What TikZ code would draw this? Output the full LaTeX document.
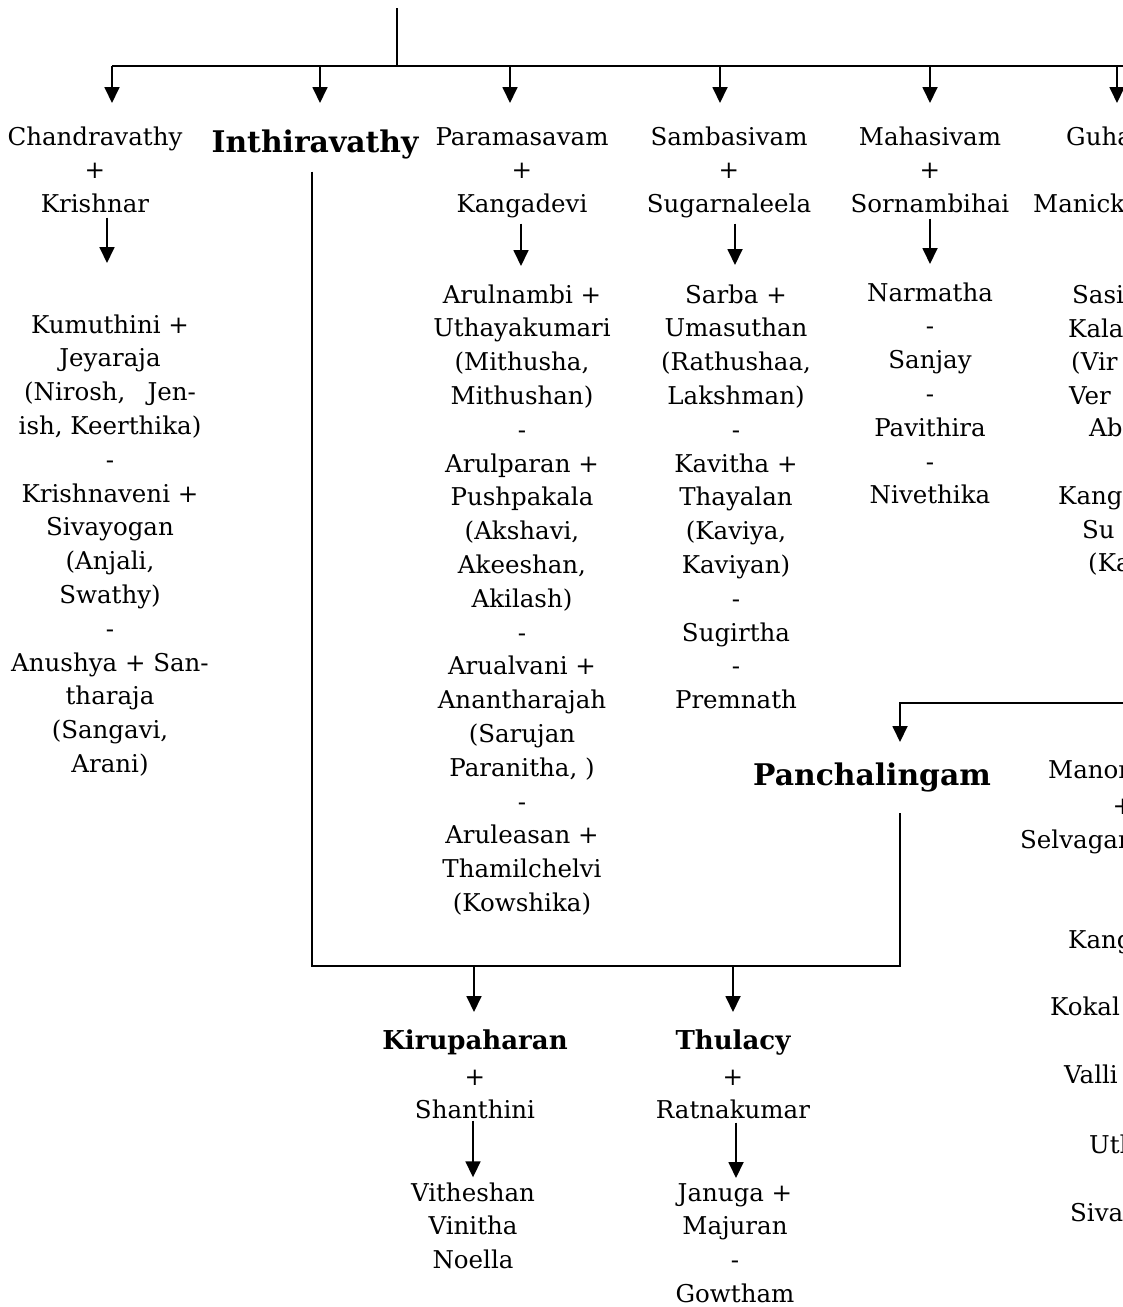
\documentclass[tikz,border=0pt]{standalone}
\usepackage{fontspec}
\setmainfont{DejaVu Serif}
\usetikzlibrary{arrows.meta,calc}
\begin{document}
\begin{tikzpicture}[x=1pt,y=-1pt,
  conn/.style={line width=1.8pt},
  arr/.style={line width=1.8pt,-{Triangle[width=15pt,length=16pt]}},
  txt/.style={inner sep=0pt,font=\fontsize{24.5}{33.8}\selectfont,align=center,anchor=north,yshift=15.7pt},
  big/.style={txt,font=\bfseries\fontsize{29.8}{36}\selectfont},
  mid/.style={txt,font=\bfseries\fontsize{26}{33.8}\selectfont},
  frag/.style={txt,anchor=north west}]
\useasboundingbox (0,0) rectangle (1123,1307);
\fill[white] (0,0) rectangle (1123,1307);
\clip (0,0) rectangle (1123,1307);

% top generation
\node[txt] (chandra) at (95,137) {\strut Chandravathy\\+\\Krishnar};
\node[big] (inthira) at (315,143) {\strut Inthiravathy};
\node[txt] (param) at (522,137) {\strut Paramasavam\\+\\Kangadevi};
\node[txt] (samba) at (729,137) {\strut Sambasivam\\+\\Sugarnaleela};
\node[txt] (maha) at (930,137) {\strut Mahasivam\\+\\Sornambihai};
\node[frag] (guha) at (1066,137) {\strut Guha};
\node[frag] (manick) at (1033,204) {\strut Manick};

% children
\node[txt] (kum) at (110,325) {\strut Kumuthini +\\Jeyaraja\\(Nirosh,\hspace{0.9em}Jen-\\ish, Keerthika)\\-\\Krishnaveni +\\Sivayogan\\(Anjali,\\Swathy)\\-\\Anushya + San-\\tharaja\\(Sangavi,\\Arani)};
\node[txt] (arul) at (522,295) {\strut Arulnambi +\\Uthayakumari\\(Mithusha,\\Mithushan)\\-\\Arulparan +\\Pushpakala\\(Akshavi,\\Akeeshan,\\Akilash)\\-\\Arualvani +\\Anantharajah\\(Sarujan\\Paranitha, )\\-\\Aruleasan +\\Thamilchelvi\\(Kowshika)};
\node[txt] (sarba) at (736,295) {\strut Sarba +\\Umasuthan\\(Rathushaa,\\Lakshman)\\-\\Kavitha +\\Thayalan\\(Kaviya,\\Kaviyan)\\-\\Sugirtha\\-\\Premnath};
\node[txt] (narm) at (930,293) {\strut Narmatha\\-\\Sanjay\\-\\Pavithira\\-\\Nivethika};

% right cut-off column
\node[frag] (f1) at (1072,295) {\strut Sasi};
\node[frag] (f2) at (1068,329) {\strut Kala};
\node[frag] (f3) at (1071,362) {\strut (Vir};
\node[frag] (f4) at (1069,396) {\strut Ver};
\node[frag] (f5) at (1089,428) {\strut Ab};
\node[frag] (f6) at (1058,496) {\strut Kang};
\node[frag] (f7) at (1082,530) {\strut Su};
\node[frag] (f8) at (1088,563) {\strut (Ka};

% Panchalingam and right lower column
\node[big] (panch) at (872,776) {\strut Panchalingam};
\node[frag] (g1) at (1048,770) {\strut Manor};
\node[txt] (g2) at (1123,806) {\strut +};
\node[frag] (g3) at (1020,840) {\strut Selvagar};
\node[frag] (g4) at (1068,940) {\strut Kang};
\node[frag] (g5) at (1050,1007) {\strut Kokal};
\node[frag] (g6) at (1064,1075) {\strut Valli};
\node[frag] (g7) at (1089,1145) {\strut Uth};
\node[frag] (g8) at (1070,1213) {\strut Siva};

% bottom generation
\node[mid] (kiru) at (475,1041) {\strut Kirupaharan};
\node[txt] (kirup) at (475,1077) {\strut +\\Shanthini};
\node[txt] (vit) at (473,1193) {\strut Vitheshan\\Vinitha\\Noella};
\node[mid] (thul) at (733,1041) {\strut Thulacy};
\node[txt] (thulp) at (733,1077) {\strut +\\Ratnakumar};
\node[txt] (jan) at (735,1193) {\strut Januga +\\Majuran\\-\\Gowtham};

% top connectors
\coordinate (top) at (397,8);
\coordinate (jtop) at (397,66);
\coordinate (j1) at (112,66);
\coordinate (j2) at (320,66);
\coordinate (j3) at (510,66);
\coordinate (j4) at (720,66);
\coordinate (j5) at (930,66);
\coordinate (j6) at (1117,66);
\coordinate (jend) at (1135,66);
\draw[conn] (top) -- (jtop);
\draw[conn] (j1) -- (jend);
\draw[arr,shorten >=18.3pt] (j1) -- (j1 |- chandra.north);
\draw[arr,shorten >=24.3pt] (j2) -- (j2 |- inthira.north);
\draw[arr,shorten >=18.3pt] (j3) -- (j3 |- param.north);
\draw[arr,shorten >=18.3pt] (j4) -- (j4 |- samba.north);
\draw[arr,shorten >=18.3pt] (j5) -- (j5 |- maha.north);
\draw[arr,shorten >=18.3pt] (j6) -- (j6 |- guha.north);

% couple to children
\draw[arr] ($(chandra.south)+(12,4.3)$) -- ($(kum.north)+(-3,-46.3)$);
\draw[arr] ($(param.south)+(-1,5.3)$) -- ($(arul.north)+(-1,-13.3)$);
\draw[arr] ($(samba.south)+(6,5.3)$) -- ($(sarba.north)+(-1,-14.3)$);
\draw[arr] ($(maha.south)+(0,5.3)$) -- ($(narm.north)+(0,-13.3)$);

% Inthiravathy - Panchalingam frame
\coordinate (jb) at (900,966);
\coordinate (jk) at (474,966);
\coordinate (jt) at (733,966);
\draw[conn] ($(inthira.south)+(-3,8)$) |- (jb) -- ($(panch.south)+(28,16)$);
\draw[arr,shorten >=13.3pt] (jk) -- (jk |- kiru.north);
\draw[arr,shorten >=13.3pt] (jt) -- (jt |- thul.north);

% Panchalingam incoming
\coordinate (pr) at (1135,703);
\draw[arr] (pr) -| ($(panch.north)+(28,-18.3)$);

% bottom children
\draw[arr] ($(kirup.south)+(-2,1)$) -- ($(vit.north)+(0,0)$);
\draw[arr] ($(thulp.south)+(3,3)$) -- ($(jan.north)+(1,0.7)$);
\end{tikzpicture}
\end{document}
